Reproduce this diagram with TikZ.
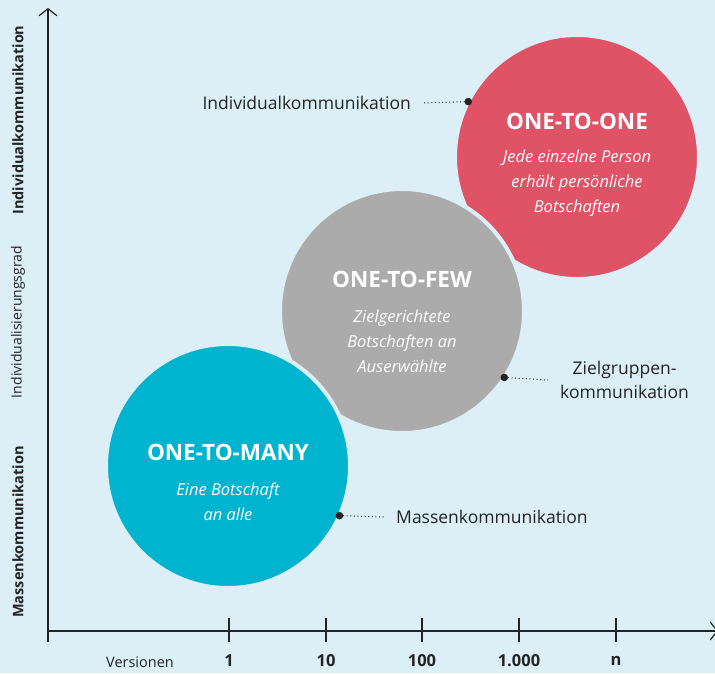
\documentclass[tikz,border=0pt]{standalone}
\usepackage{fontspec}
\setmainfont{Open Sans}
\usepackage{xcolor}
\usetikzlibrary{arrows.meta}

\definecolor{paleblue}{RGB}{220,238,246}
\definecolor{onered}{RGB}{224,82,101}
\definecolor{fewgray}{RGB}{171,171,171}
\definecolor{manycyan}{RGB}{0,180,208}
\definecolor{inkgray}{RGB}{35,35,35}

\begin{document}
\begin{tikzpicture}[x=1pt, y=-1pt,
  bubble/.style={circle, draw=paleblue, line width=4pt, inner sep=0pt,
                 outer sep=0pt, minimum size=244pt},
  bubbletitle/.style={text=white, font=\fontsize{22.5}{26}\selectfont\bfseries},
  bubbletext/.style={text=white, align=center,
                     font=\fontsize{16.5}{25}\selectfont\itshape},
  calltext/.style={text=inkgray, inner xsep=12pt, inner ysep=2pt,
                   font=\fontsize{17.5}{24}\selectfont},
  leader/.style={inkgray, line width=1pt, dash pattern=on 1pt off 2.6pt},
  axisline/.style={inkgray, line width=1.4pt},
  axislabel/.style={text=inkgray, rotate=90, font=\fontsize{14}{16}\selectfont}
]

% page and background
\fill[paleblue] (0,0) rectangle (715,673);
\useasboundingbox (0,0) rectangle (715,673);

% Define the bubble centres
\def\radius{120}
\coordinate (cone) at (577,157);
\coordinate (cfew) at (402,311);
\coordinate (cmany) at (228,466);

% Draw the three bubbles, later ones on top with a pale rim
\node[bubble, fill=onered] (one) at (cone) {};
\node[bubble, fill=fewgray] (few) at (cfew) {};
\node[bubble, fill=manycyan] (many) at (cmany) {};

% Titles and descriptions inside the bubbles
\node[bubbletitle] (onetitle) at (577,121) {ONE-TO-ONE};
\node[bubbletext] (onetext) at (577,183) {Jede einzelne Person\\erhält persönliche\\Botschaften};

\node[bubbletitle] (fewtitle) at (402,279) {ONE-TO-FEW};
\node[bubbletext] (fewtext) at (402,341) {Zielgerichtete\\Botschaften an\\Auserwählte};

\node[bubbletitle] (manytitle) at (228,452) {ONE-TO-MANY};
\node[bubbletext] (manytext) at (228,502) {Eine Botschaft\\an alle};

% Callouts on the bubble rims
\node[calltext, anchor=east] (indiv) at (423,103) {Individualkommunikation};
\node[calltext, anchor=west, align=center] (group) at (548,380) {Zielgruppen-\\kommunikation};
\node[calltext, anchor=west] (mass) at (384,517) {Massenkommunikation};

\fill[inkgray] (one.153.6) circle (3.8pt);
\fill[inkgray] (few.-33.8) circle (3.8pt);
\fill[inkgray] (many.-24) circle (3.8pt);

\draw[leader] (one.153.6) -- (indiv.east);
\draw[leader] (few.-33.8) -- (group.west);
\draw[leader] (many.-24) -- (mass.west);

% Axes
\coordinate (origin) at (48,631);
\coordinate (ytop) at (48,8);
\coordinate (xend) at (718,631);
\draw[axisline, -{Straight Barb[length=7pt, width=18pt, line width=1.2pt]}] (48,642) -- (ytop);
\draw[axisline, -{Straight Barb[length=7pt, width=18pt, line width=1.2pt]}] (origin) -- (xend);

% Ticks and labels on the x axis
\node[text=inkgray, font=\fontsize{14.5}{16}\selectfont] (versionen) at (140,662) {Versionen};
\foreach \x/\v in {229/1, 326/10, 422/100, 519/1.000, 616/n} {
    \draw[axisline] (\x,618) -- (\x,642);
    \node[text=inkgray, font=\fontsize{16.5}{18}\selectfont\bfseries] (tick\x) at (\x,661) {\v};
}

% Labels along the y axis
\node[axislabel, font=\fontsize{14.5}{16}\selectfont\bfseries] (ylabtop) at (18,120) {Individualkommunikation};
\node[axislabel] (ylabmid) at (18,322) {Individualisierungsgrad};
\node[axislabel, font=\fontsize{14.5}{16}\selectfont\bfseries] (ylabbot) at (18,532) {Massenkommunikation};

\end{tikzpicture}
\end{document}
